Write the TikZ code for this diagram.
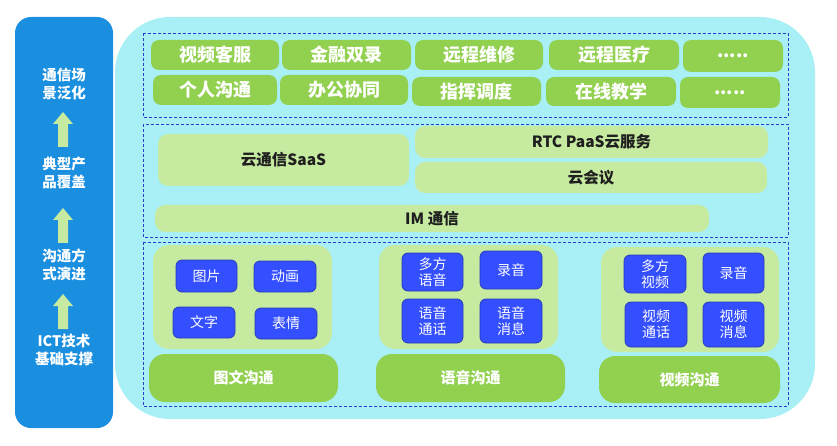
\documentclass[tikz,border=0pt]{standalone}
\usepackage{fontspec}
\setmainfont{Noto Sans CJK SC}
\setsansfont{Noto Sans CJK SC}
\definecolor{panelblue}{HTML}{1A8FE0}
\definecolor{cyanbg}{HTML}{A8F0F6}
\definecolor{gdark}{HTML}{92D050}
\definecolor{glight}{HTML}{C6EAA0}
\definecolor{bbox}{HTML}{334FFF}
\definecolor{bborder}{HTML}{2A3DB8}
\definecolor{dashc}{HTML}{2B3BCB}
\definecolor{txtd}{HTML}{1F1F1F}
\tikzset{
  base/.style={inner sep=0pt, outer sep=0pt, align=center},
  gbox/.style={base, fill=gdark, rounded corners=8pt, text=white, font=\fontsize{18}{20}\selectfont\bfseries},
  gbig/.style={base, fill=gdark, rounded corners=16pt, text=white, font=\fontsize{15}{17}\selectfont\bfseries},
  lbox/.style={base, fill=glight, rounded corners=10pt, text=txtd, font=\fontsize{15.5}{18}\selectfont\bfseries},
  lpanel/.style={base, fill=glight, rounded corners=16pt},
  bluebox/.style={base, fill=bbox, draw=bborder, line width=0.8pt, rounded corners=6pt, text=white, font=\fontsize{14}{16}\selectfont},
  dashbox/.style={draw=dashc, line width=0.8pt, dash pattern=on 3pt off 2pt},
  ltxt/.style={base, text=white, font=\fontsize{14.5}{18}\selectfont\bfseries},
}
\newcommand\bx[7]{\node[#1, minimum width={(#5-#3)*1pt}, minimum height={(#6-#4)*1pt}] (#2) at ({(#3+#5)/2},{(#4+#6)/2}) {#7};}
\newcommand\uparr[3]{% x-center, top, bottom
  \fill[glight] (#1-10,#2+12) -- (#1,#2) -- (#1+10,#2+12) -- (#1+5,#2+12) -- (#1+5,#3) -- (#1-5,#3) -- (#1-5,#2+12) -- cycle;}
\begin{document}
\begin{tikzpicture}[x=1pt,y=-1pt]
\useasboundingbox (0,0) rectangle (837,446);
% left panel
\fill[panelblue, rounded corners=16pt] (15,17) rectangle (113,428);
\node[ltxt] (l1) at (64,84) {通信场\\景泛化};
\node[ltxt] (l2) at (64,173) {典型产\\品覆盖};
\node[ltxt] (l3) at (64,265) {沟通方\\式演进};
\node[ltxt] (l4) at (64,350) {ICT技术\\基础支撑};
\uparr{63}{112}{147}
\uparr{63}{208}{243}
\uparr{63}{294}{329}
% main cyan panel
\fill[cyanbg, rounded corners=55pt] (115,17) rectangle (815,419);
% dashed sections
\draw[dashbox] (143,33) rectangle (788,117);
\draw[dashbox] (143,124) rectangle (788,237);
\draw[dashbox] (143,242) rectangle (788,406);
% top row scenarios
\bx{gbox}{a1}{151}{40}{279}{70}{视频客服}
\bx{gbox}{a2}{282}{40}{411}{70}{金融双录}
\bx{gbox}{a3}{415}{40}{543}{70}{远程维修}
\bx{gbox}{a4}{549}{40}{679}{70}{远程医疗}
\bx{gbox}{a5}{683}{40}{783}{72}{.....}
\bx{gbox}{b1}{153}{75}{277}{105}{个人沟通}
\bx{gbox}{b2}{280}{75}{408}{105}{办公协同}
\bx{gbox}{b3}{412}{77}{541}{106}{指挥调度}
\bx{gbox}{b4}{546}{77}{676}{106}{在线教学}
\bx{gbox}{b5}{680}{77}{780}{108}{.....}
% products
\bx{lbox}{saas}{158}{134}{409}{186}{云通信SaaS}
\bx{lbox}{paas}{415}{126}{768}{158}{RTC PaaS云服务}
\bx{lbox}{meet}{415}{162}{767}{193}{云会议}
\bx{lbox}{im}{155}{205}{709}{232}{IM 通信}
% group 1
\bx{lpanel}{p1}{153}{245}{332}{349}{}
\bx{bluebox}{c1}{176}{260}{237}{292}{图片}
\bx{bluebox}{c2}{254}{261}{316}{292}{动画}
\bx{bluebox}{c3}{173}{307}{235}{338}{文字}
\bx{bluebox}{c4}{255}{308}{317}{339}{表情}
\bx{gbig}{g1}{149}{354}{338}{402}{图文沟通}
% group 2
\bx{lpanel}{p2}{379}{245}{558}{349}{}
\bx{bluebox}{d1}{402}{253}{463}{291}{多方\\语音}
\bx{bluebox}{d2}{480}{251}{542}{289}{录音}
\bx{bluebox}{d3}{402}{299}{463}{343}{语音\\通话}
\bx{bluebox}{d4}{480}{299}{542}{343}{语音\\消息}
\bx{gbig}{g2}{376}{354}{565}{402}{语音沟通}
% group 3
\bx{lpanel}{p3}{601}{247}{779}{352}{}
\bx{bluebox}{e1}{624}{255}{686}{293}{多方\\视频}
\bx{bluebox}{e2}{703}{253}{764}{293}{录音}
\bx{bluebox}{e3}{625}{302}{687}{347}{视频\\通话}
\bx{bluebox}{e4}{703}{302}{764}{347}{视频\\消息}
\bx{gbig}{g3}{599}{356}{780}{403}{视频沟通}
\end{tikzpicture}
\end{document}
